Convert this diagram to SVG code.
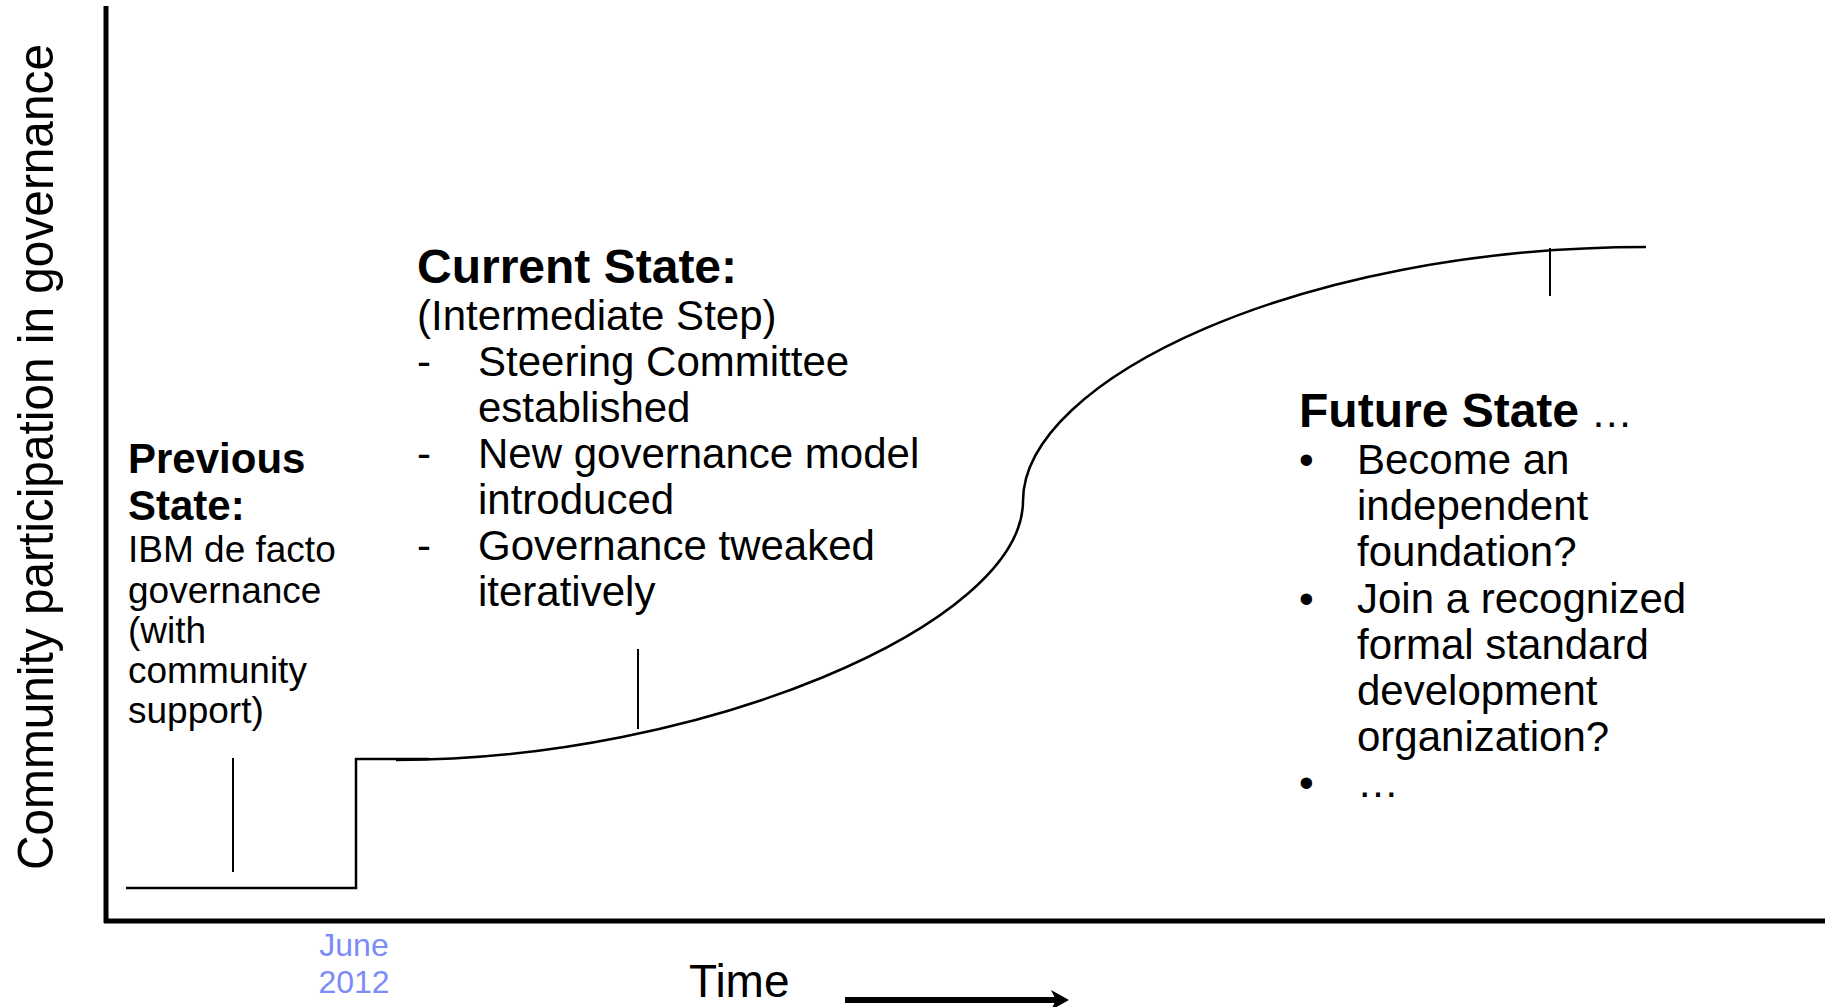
<svg xmlns="http://www.w3.org/2000/svg" width="1825" height="1007" viewBox="0 0 1825 1007">
<style>
  text { font-family: "Liberation Sans", Arial, sans-serif; fill: #000; }
  .b48 { font-size: 48px; font-weight: bold; }
  .b42 { font-size: 42px; font-weight: bold; }
  .r42 { font-size: 42px; }
  .r37 { font-size: 37px; }
  .axis { stroke: #000; stroke-width: 5; fill: none; }
  .curve { stroke: #000; stroke-width: 2.5; fill: none; }
  .tick { stroke: #000; stroke-width: 2; fill: none; }
  .date { font-size: 32px; fill: #7b8cf8; }
</style>
<rect width="1825" height="1007" fill="#fff"/>
<g id="axes">
  <line class="axis" x1="106" y1="6" x2="106" y2="923"/>
  <line class="axis" x1="104" y1="921" x2="1825" y2="921"/>
  <text id="y-label" style="font-size:50px" transform="translate(53,457) rotate(-90)" text-anchor="middle" textLength="826" lengthAdjust="spacingAndGlyphs">Community participation in governance</text>
  <text id="june" class="date" x="354" y="956" text-anchor="middle">June</text>
  <text class="date" x="354" y="993" text-anchor="middle">2012</text>
  <text id="time" style="font-size:46px" x="689" y="997">Time</text>
  <line x1="845" y1="1000" x2="1056" y2="1000" stroke="#000" stroke-width="6"/>
  <polygon points="1051,990 1069,1000 1051,1010 1056,1000" fill="#000"/>
</g>
<g id="connectors">
  <polyline class="curve" points="126,888 356,888 356,759 429,759"/>
  <path class="curve" d="M396,760 C700,760 1023,625 1023,501 C1023,380 1300,247 1646,247"/>
  <line class="tick" x1="233" y1="758" x2="233" y2="872"/>
  <line class="tick" x1="638" y1="649" x2="638" y2="729"/>
  <line class="tick" x1="1550" y1="248" x2="1550" y2="296"/>
</g>
<g id="previous-state">
  <text class="b42" x="128" y="473">Previous</text>
  <text class="b42" x="128" y="520">State:</text>
  <text class="r37" x="128" y="562">IBM de facto</text>
  <text class="r37" x="128" y="603">governance</text>
  <text class="r37" x="128" y="643">(with</text>
  <text class="r37" x="128" y="683">community</text>
  <text class="r37" x="128" y="723">support)</text>
</g>
<g id="current-state">
  <text class="b48" x="417" y="283">Current State:</text>
  <text class="r42" x="417" y="330">(Intermediate Step)</text>
  <text class="r42" x="417" y="376">-</text>
  <text class="r42" x="478" y="376">Steering Committee</text>
  <text class="r42" x="478" y="422">established</text>
  <text class="r42" x="417" y="468">-</text>
  <text class="r42" x="478" y="468">New governance model</text>
  <text class="r42" x="478" y="514">introduced</text>
  <text class="r42" x="417" y="560">-</text>
  <text class="r42" x="478" y="560">Governance tweaked</text>
  <text class="r42" x="478" y="606">iteratively</text>
</g>
<g id="future-state">
  <text x="1299" y="427"><tspan class="b48">Future State</tspan><tspan class="r42"> …</tspan></text>
  <text class="r42" x="1299" y="474">•</text>
  <text class="r42" x="1357" y="474">Become an</text>
  <text class="r42" x="1357" y="520">independent</text>
  <text class="r42" x="1357" y="566">foundation?</text>
  <text class="r42" x="1299" y="613">•</text>
  <text class="r42" x="1357" y="613">Join a recognized</text>
  <text class="r42" x="1357" y="659">formal standard</text>
  <text class="r42" x="1357" y="705">development</text>
  <text class="r42" x="1357" y="751">organization?</text>
  <text class="r42" x="1299" y="797">•</text>
  <text class="r42" x="1357" y="797">…</text>
</g>
</svg>
